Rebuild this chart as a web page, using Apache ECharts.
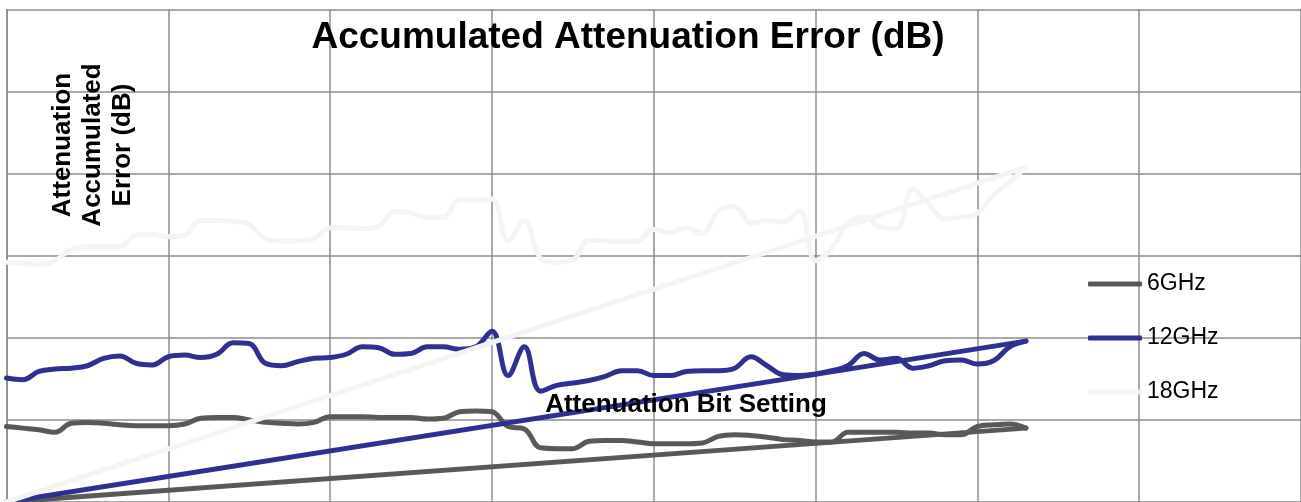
<!DOCTYPE html>
<html>
<head>
<meta charset="utf-8">
<title>Accumulated Attenuation Error</title>
<script src="https://cdn.jsdelivr.net/npm/echarts@6/dist/echarts.min.js"></script>
<style>
  html, body {
    margin: 0;
    padding: 0;
    background: #fff;
  }
  #chart {
    width: 1301px;
    height: 502px;
  }
</style>
</head>
<body>
<div id="chart"></div>
<script>
// attenuation bit setting (x)
const bitSettings = [
  0, 1, 2, 3, 4, 5, 6, 7, 8, 9, 10, 11, 12, 13, 14, 15,
  16, 17, 18, 19, 20, 21, 22, 23, 24, 25, 26, 27, 28, 29, 30, 31,
  32, 33, 34, 35, 36, 37, 38, 39, 40, 41, 42, 43, 44, 45, 46, 47,
  48, 49, 50, 51, 52, 53, 54, 55, 56, 57, 58, 59, 60, 61, 62, 63
]

// accumulated error, one value per bit setting
const err6GHz = [
  0.92, 0.90, 0.88, 0.85, 0.96, 0.97, 0.96, 0.94, 0.93, 0.93, 0.93, 0.95, 1.02, 1.03, 1.03, 1.00,
  0.97, 0.96, 0.95, 0.97, 1.04, 1.04, 1.04, 1.03, 1.03, 1.03, 1.01, 1.02, 1.10, 1.11, 1.10, 0.92,
  0.89, 0.66, 0.65, 0.65, 0.74, 0.75, 0.75, 0.73, 0.71, 0.71, 0.71, 0.72, 0.80, 0.82, 0.81, 0.79,
  0.76, 0.75, 0.73, 0.73, 0.85, 0.85, 0.85, 0.85, 0.84, 0.84, 0.82, 0.82, 0.92, 0.94, 0.95, 0.90
]
const err12GHz = [
  1.51, 1.49, 1.59, 1.62, 1.63, 1.66, 1.75, 1.78, 1.69, 1.67, 1.77, 1.79, 1.76, 1.80, 1.94, 1.93,
  1.69, 1.66, 1.71, 1.75, 1.76, 1.80, 1.89, 1.88, 1.80, 1.81, 1.89, 1.89, 1.86, 1.89, 2.08, 1.54,
  1.89, 1.35, 1.42, 1.45, 1.48, 1.53, 1.60, 1.60, 1.54, 1.54, 1.59, 1.60, 1.60, 1.63, 1.77, 1.66,
  1.55, 1.54, 1.56, 1.60, 1.66, 1.81, 1.73, 1.75, 1.63, 1.66, 1.72, 1.73, 1.68, 1.72, 1.89, 1.96
]
const err18GHz = [
  2.92, 2.91, 2.89, 2.94, 3.08, 3.11, 3.11, 3.11, 3.25, 3.26, 3.23, 3.25, 3.43, 3.43, 3.42, 3.38,
  3.21, 3.18, 3.18, 3.21, 3.34, 3.34, 3.33, 3.36, 3.54, 3.52, 3.47, 3.47, 3.68, 3.68, 3.69, 3.18,
  3.43, 2.97, 2.92, 2.95, 3.19, 3.18, 3.17, 3.18, 3.32, 3.28, 3.34, 3.27, 3.55, 3.60, 3.40, 3.43,
  3.41, 3.55, 2.94, 3.09, 3.40, 3.47, 3.35, 3.33, 3.81, 3.63, 3.45, 3.47, 3.52, 3.74, 3.90, 4.08
]

const seriesNames = ['6GHz', '12GHz', '18GHz']
const seriesColors = ['#595959', '#2e3192', '#f4f4f4']

const chart = echarts.init(document.getElementById('chart'))

const gridColor = '#8c8c8c'
const lines = [err6GHz, err12GHz, err18GHz]

let series = []
lines.forEach((values, k) => {
  const color = seriesColors[k]
  const style = { color: color, width: 5, cap: 'round', join: 'round' }
  // measured curve
  series.push({
    name: seriesNames[k],
    type: 'line',
    smooth: 0.4,
    showSymbol: false,
    itemStyle: { color: color },
    lineStyle: style,
    data: bitSettings.map((b, i) => [b, values[i]]),
  })
  // straight line from the origin to the last point
  series.push({
    name: seriesNames[k],
    type: 'line',
    showSymbol: false,
    itemStyle: { color: color },
    lineStyle: style,
    data: [
      [bitSettings[0], 0],
      [bitSettings[bitSettings.length - 1], values[values.length - 1]],
    ],
  })
})

chart.setOption({
  animation: false,
  backgroundColor: '#fff',
  grid: {
    left: 6.5,
    top: 9.5,
    width: 1296,
    height: 495.6,
  },
  xAxis: {
    type: 'value',
    min: 0,
    max: 80,
    interval: 10,
    axisLine: { show: false },
    axisTick: { show: false },
    axisLabel: { show: false },
    splitLine: { show: true, lineStyle: { color: gridColor, width: 1.5 } },
  },
  yAxis: {
    type: 'value',
    min: 0,
    max: 6,
    interval: 1,
    axisLine: { show: true, lineStyle: { color: gridColor, width: 1.5 } },
    axisTick: { show: false },
    axisLabel: { show: false },
    splitLine: { show: true, lineStyle: { color: gridColor, width: 1.5 } },
  },
  legend: {
    data: seriesNames,
    orient: 'vertical',
    left: 1083,
    top: 267,
    icon: 'roundRect',
    itemWidth: 54,
    itemHeight: 5,
    itemGap: 30,
    textStyle: {
      color: '#000',
      fontFamily: 'Liberation Sans, Arial, sans-serif',
      fontSize: 23,
      lineHeight: 24,
    },
  },
  graphic: [
    {
      type: 'text',
      x: 628,
      y: 38,
      z: 100,
      style: {
        text: 'Accumulated Attenuation Error (dB)',
        font: 'bold 37px "Liberation Sans", Arial, sans-serif',
        fill: '#000',
        align: 'center',
        verticalAlign: 'middle',
        textAlign: 'center',
        textVerticalAlign: 'middle',
      },
    },
    {
      type: 'text',
      x: 93,
      y: 145,
      z: 100,
      rotation: Math.PI / 2,
      style: {
        text: 'Attenuation\nAccumulated\nError (dB)',
        font: 'bold 26px "Liberation Sans", Arial, sans-serif',
        lineHeight: 30,
        fill: '#000',
        align: 'center',
        verticalAlign: 'middle',
        textAlign: 'center',
        textVerticalAlign: 'middle',
      },
    },
    {
      type: 'text',
      x: 686,
      y: 405,
      z: 100,
      style: {
        text: 'Attenuation Bit Setting',
        font: 'bold 26px "Liberation Sans", Arial, sans-serif',
        fill: '#000',
        align: 'center',
        verticalAlign: 'middle',
        textAlign: 'center',
        textVerticalAlign: 'middle',
      },
    },
  ],
  series: series,
})
</script>
</body>
</html>
